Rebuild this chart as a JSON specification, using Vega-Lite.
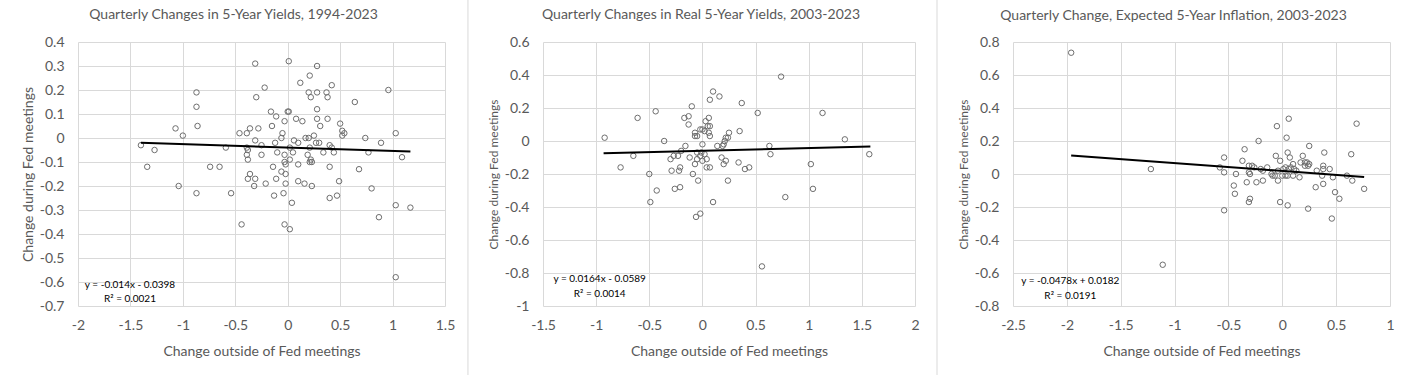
{
  "$schema": "https://vega.github.io/schema/vega-lite/v6.json",
  "background": "white",
  "autosize": {"type": "none"},
  "padding": {"left": 78, "top": 42, "right": 1325, "bottom": 333},
  "spacing": 98,
  "bounds": "flush",
  "datasets": {
    "p1": [
      {"x":-0.31,"y":0.31},{"x":0.01,"y":0.32},{"x":0.28,"y":0.30},{"x":0.21,"y":0.26},{"x":0.12,"y":0.23},{"x":0.42,"y":0.22},{"x":-0.87,"y":0.19},{"x":0.20,"y":0.19},{"x":0.28,"y":0.19},{"x":0.37,"y":0.19},
      {"x":-0.22,"y":0.21},{"x":-0.30,"y":0.17},{"x":0.22,"y":0.17},{"x":0.38,"y":0.17},{"x":0.96,"y":0.20},{"x":0.64,"y":0.15},{"x":-0.87,"y":0.13},{"x":0.28,"y":0.12},{"x":0.0,"y":0.11},{"x":0.01,"y":0.11},
      {"x":-0.16,"y":0.11},{"x":-0.11,"y":0.09},{"x":0.08,"y":0.08},{"x":0.14,"y":0.07},{"x":0.28,"y":0.08},{"x":0.38,"y":0.08},{"x":-0.03,"y":0.07},{"x":0.31,"y":0.05},{"x":0.50,"y":0.06},{"x":-0.86,"y":0.05},
      {"x":-1.07,"y":0.04},{"x":-1.0,"y":0.01},{"x":-0.46,"y":0.02},{"x":-0.39,"y":0.02},{"x":-0.36,"y":0.04},{"x":-0.28,"y":0.04},{"x":-0.15,"y":0.05},{"x":-0.05,"y":0.02},{"x":-0.06,"y":0.0},{"x":0.52,"y":0.03},
      {"x":0.52,"y":0.01},{"x":0.54,"y":0.02},{"x":1.03,"y":0.02},{"x":0.74,"y":0.0},{"x":0.89,"y":-0.02},{"x":0.17,"y":0.0},{"x":0.20,"y":0.0},{"x":0.25,"y":0.01},{"x":-0.31,"y":-0.01},{"x":-0.12,"y":-0.02},
      {"x":0.06,"y":-0.01},{"x":0.10,"y":-0.02},{"x":0.27,"y":-0.02},{"x":0.30,"y":-0.02},{"x":0.40,"y":-0.03},{"x":0.42,"y":-0.04},{"x":0.21,"y":-0.04},{"x":0.02,"y":-0.04},{"x":-0.39,"y":-0.04},{"x":-0.38,"y":-0.05},
      {"x":-0.25,"y":-0.03},{"x":-0.10,"y":-0.06},{"x":-0.03,"y":-0.07},{"x":0.05,"y":-0.06},{"x":0.34,"y":-0.06},{"x":0.44,"y":-0.06},{"x":-0.25,"y":-0.07},{"x":-0.39,"y":-0.07},{"x":-0.38,"y":-0.09},{"x":-0.59,"y":-0.04},
      {"x":-1.27,"y":-0.05},{"x":-1.40,"y":-0.03},{"x":0.77,"y":-0.06},{"x":1.09,"y":-0.08},{"x":0.19,"y":-0.07},{"x":0.02,"y":-0.09},{"x":-0.03,"y":-0.10},{"x":-0.02,"y":-0.11},{"x":0.10,"y":-0.11},{"x":0.21,"y":-0.10},
      {"x":0.23,"y":-0.10},{"x":0.22,"y":-0.09},{"x":0.40,"y":-0.12},{"x":-0.14,"y":-0.12},{"x":-0.74,"y":-0.12},{"x":-0.65,"y":-0.12},{"x":-1.34,"y":-0.12},{"x":0.68,"y":-0.13},{"x":-0.06,"y":-0.14},{"x":-0.02,"y":-0.15},
      {"x":-0.36,"y":-0.15},{"x":-0.38,"y":-0.17},{"x":-0.31,"y":-0.17},{"x":-0.11,"y":-0.17},{"x":-0.32,"y":-0.20},{"x":-0.21,"y":-0.19},{"x":-0.02,"y":-0.19},{"x":0.10,"y":-0.18},{"x":0.16,"y":-0.19},{"x":0.23,"y":-0.20},
      {"x":0.49,"y":-0.18},{"x":-1.04,"y":-0.20},{"x":0.80,"y":-0.21},{"x":-0.87,"y":-0.23},{"x":-0.54,"y":-0.23},{"x":-0.13,"y":-0.24},{"x":-0.04,"y":-0.23},{"x":0.40,"y":-0.25},{"x":0.47,"y":-0.24},{"x":0.04,"y":-0.27},
      {"x":1.03,"y":-0.28},{"x":1.17,"y":-0.29},{"x":0.87,"y":-0.33},{"x":-0.44,"y":-0.36},{"x":-0.03,"y":-0.36},{"x":0.02,"y":-0.38},{"x":1.03,"y":-0.58}
    ],
    "p2": [
      {"x":-0.92,"y":0.02},{"x":-0.61,"y":0.14},{"x":-0.44,"y":0.18},{"x":-0.36,"y":0.0},{"x":-0.65,"y":-0.09},{"x":-0.77,"y":-0.16},{"x":-0.50,"y":-0.20},{"x":-0.43,"y":-0.30},{"x":-0.49,"y":-0.37},{"x":-0.30,"y":-0.11},
      {"x":-0.27,"y":-0.09},{"x":-0.23,"y":-0.09},{"x":-0.29,"y":-0.18},{"x":-0.26,"y":-0.29},{"x":-0.21,"y":-0.28},{"x":-0.21,"y":-0.16},{"x":-0.22,"y":-0.18},{"x":-0.20,"y":-0.06},{"x":-0.16,"y":-0.03},{"x":-0.17,"y":0.14},
      {"x":-0.13,"y":0.15},{"x":-0.13,"y":0.10},{"x":-0.10,"y":0.21},{"x":-0.12,"y":-0.10},{"x":-0.07,"y":0.05},{"x":-0.07,"y":0.03},{"x":-0.05,"y":0.03},{"x":-0.02,"y":0.07},{"x":0.0,"y":0.07},{"x":0.03,"y":0.12},
      {"x":0.06,"y":0.14},{"x":0.05,"y":0.09},{"x":0.07,"y":0.09},{"x":0.07,"y":0.03},{"x":0.06,"y":0.05},{"x":0.02,"y":0.06},{"x":0.10,"y":0.30},{"x":0.07,"y":0.25},{"x":0.16,"y":0.27},{"x":-0.07,"y":-0.14},
      {"x":-0.09,"y":-0.20},{"x":-0.04,"y":-0.24},{"x":-0.05,"y":-0.11},{"x":-0.05,"y":-0.07},{"x":-0.02,"y":-0.09},{"x":0.0,"y":-0.02},{"x":-0.01,"y":-0.07},{"x":0.02,"y":-0.08},{"x":0.04,"y":-0.11},{"x":0.0,"y":-0.12},
      {"x":0.04,"y":-0.16},{"x":0.07,"y":-0.16},{"x":0.10,"y":-0.37},{"x":-0.06,"y":-0.46},{"x":-0.02,"y":-0.44},{"x":0.14,"y":-0.03},{"x":0.19,"y":-0.03},{"x":0.20,"y":-0.02},{"x":0.22,"y":0.02},{"x":0.24,"y":0.02},
      {"x":0.25,"y":0.05},{"x":0.21,"y":0.0},{"x":0.18,"y":-0.10},{"x":0.22,"y":-0.12},{"x":0.20,"y":-0.14},{"x":0.24,"y":-0.24},{"x":0.34,"y":-0.13},{"x":0.35,"y":0.06},{"x":0.37,"y":0.23},{"x":0.40,"y":-0.17},
      {"x":0.44,"y":-0.16},{"x":0.52,"y":0.17},{"x":0.56,"y":-0.76},{"x":0.63,"y":-0.03},{"x":0.64,"y":-0.08},{"x":0.74,"y":0.39},{"x":0.78,"y":-0.34},{"x":1.02,"y":-0.14},{"x":1.04,"y":-0.29},{"x":1.13,"y":0.17},
      {"x":1.34,"y":0.01},{"x":1.57,"y":-0.08}
    ],
    "p3": [
      {"x":-1.96,"y":0.735},{"x":-1.22,"y":0.03},{"x":-1.11,"y":-0.55},{"x":-0.58,"y":0.04},{"x":-0.54,"y":0.10},{"x":-0.54,"y":0.01},{"x":-0.43,"y":0.0},{"x":-0.45,"y":-0.07},{"x":-0.44,"y":-0.12},{"x":-0.54,"y":-0.22},
      {"x":-0.35,"y":0.15},{"x":-0.37,"y":0.08},{"x":-0.33,"y":-0.05},{"x":-0.31,"y":0.05},{"x":-0.28,"y":0.05},{"x":-0.31,"y":0.01},{"x":-0.30,"y":0.0},{"x":-0.26,"y":0.04},{"x":-0.31,"y":-0.17},{"x":-0.30,"y":-0.15},
      {"x":-0.24,"y":-0.05},{"x":-0.22,"y":0.20},{"x":-0.20,"y":0.03},{"x":-0.18,"y":-0.04},{"x":-0.18,"y":0.02},{"x":-0.14,"y":0.04},{"x":-0.07,"y":-0.01},{"x":-0.05,"y":0.29},{"x":-0.06,"y":0.11},{"x":-0.04,"y":0.02},
      {"x":-0.04,"y":-0.04},{"x":-0.02,"y":0.08},{"x":-0.02,"y":-0.17},{"x":0.06,"y":0.335},{"x":0.04,"y":0.22},{"x":0.05,"y":0.13},{"x":0.07,"y":0.10},{"x":0.05,"y":-0.19},{"x":0.01,"y":0.03},{"x":0.03,"y":0.04},
      {"x":0.06,"y":0.03},{"x":0.08,"y":0.04},{"x":0.0,"y":-0.01},{"x":0.03,"y":-0.01},{"x":0.05,"y":-0.01},{"x":0.10,"y":0.06},{"x":0.11,"y":0.03},{"x":0.10,"y":-0.01},{"x":0.16,"y":-0.02},{"x":0.17,"y":0.07},
      {"x":0.19,"y":0.11},{"x":0.21,"y":0.07},{"x":0.23,"y":0.07},{"x":0.21,"y":0.05},{"x":0.24,"y":0.05},{"x":0.25,"y":0.17},{"x":0.25,"y":0.06},{"x":0.24,"y":-0.21},{"x":0.31,"y":-0.08},{"x":0.32,"y":0.02},
      {"x":0.37,"y":-0.01},{"x":0.38,"y":0.03},{"x":0.38,"y":0.05},{"x":0.39,"y":0.13},{"x":0.38,"y":-0.06},{"x":0.44,"y":0.03},{"x":0.47,"y":-0.02},{"x":0.46,"y":-0.27},{"x":0.49,"y":-0.11},{"x":0.53,"y":-0.15},
      {"x":0.60,"y":-0.01},{"x":0.64,"y":0.12},{"x":0.65,"y":-0.04},{"x":0.69,"y":0.305},{"x":0.76,"y":-0.09},{"x":-0.10,"y":0.0},{"x":0.13,"y":0.02},{"x":-0.09,"y":-0.01}
    ],
    "t1": [{"x":-1.40,"y":-0.0202},{"x":1.17,"y":-0.0562}],
    "t2": [{"x":-0.93,"y":-0.0741},{"x":1.58,"y":-0.0330}],
    "t3": [{"x":-1.96,"y":0.1119},{"x":0.76,"y":-0.0181}],
    "e1": [{"label":"y = -0.014x - 0.0398","x":-1.504,"y":-0.6125},{"label":"R² = 0.0021","x":-1.504,"y":-0.671}],
    "e2": [{"label":"y = 0.0164x - 0.0589","x":-0.967,"y":-0.836},{"label":"R² = 0.0014","x":-0.967,"y":-0.927}],
    "e3": [{"label":"y = -0.0478x + 0.0182","x":-1.968,"y":-0.648},{"label":"R² = 0.0191","x":-1.968,"y":-0.738}],
    "s1": [{"x":1.719,"y":0.575,"y2":-0.9875}],
    "s2": [{"x":2.207,"y":0.8545,"y2":-1.418}]
  },
  "hconcat": [
    {
      "width": 367, "height": 264,
      "title": {"text": "Quarterly Changes in 5-Year Yields, 1994-2023", "offset": -22},
      "encoding": {
        "x": {"field": "x", "type": "quantitative", "scale": {"domain": [-2, 1.5], "nice": false, "zero": false}, "axis": {"values": [-2, -1.5, -1, -0.5, 0, 0.5, 1, 1.5], "title": "Change outside of Fed meetings"}},
        "y": {"field": "y", "type": "quantitative", "scale": {"domain": [-0.7, 0.4], "nice": false, "zero": false}, "axis": {"values": [-0.7, -0.6, -0.5, -0.4, -0.3, -0.2, -0.1, 0, 0.1, 0.2, 0.3, 0.4], "title": "Change during Fed meetings", "titleFontSize": 14, "titlePadding": 4}}
      },
      "layer": [
        {"mark": {"type": "rule", "color": "#000000", "strokeWidth": 1}, "encoding": {"x": {"datum": 0, "type": "quantitative"}, "y": null}},
        {"mark": {"type": "rule", "color": "#000000", "strokeWidth": 1}, "encoding": {"y": {"datum": 0, "type": "quantitative"}, "x": null}},
        {"data": {"name": "s1"}, "mark": {"type": "rule", "color": "#d9d9d9", "strokeWidth": 1}, "encoding": {"y2": {"field": "y2"}}},
        {"data": {"name": "p1"}, "mark": {"type": "point", "shape": "circle", "filled": false, "size": 30, "stroke": "#6e6e6e", "strokeWidth": 1, "opacity": 1}},
        {"data": {"name": "t1"}, "mark": {"type": "line", "color": "#000000", "strokeWidth": 2}},
        {"data": {"name": "e1"}, "mark": {"type": "text", "align": "center", "baseline": "middle", "fontSize": 10, "color": "#000000", "font": "Lato"}, "encoding": {"text": {"field": "label"}}}
      ]
    },
    {
      "width": 372, "height": 264,
      "title": {"text": "Quarterly Changes in Real 5-Year Yields, 2003-2023", "offset": -22},
      "encoding": {
        "x": {"field": "x", "type": "quantitative", "scale": {"domain": [-1.5, 2], "nice": false, "zero": false}, "axis": {"values": [-1.5, -1, -0.5, 0, 0.5, 1, 1.5, 2], "title": "Change outside of Fed meetings"}},
        "y": {"field": "y", "type": "quantitative", "scale": {"domain": [-1, 0.6], "nice": false, "zero": false}, "axis": {"values": [-1, -0.8, -0.6, -0.4, -0.2, 0, 0.2, 0.4, 0.6], "title": "Change during Fed meetings", "titleFontSize": 12, "titlePadding": 4}}
      },
      "layer": [
        {"mark": {"type": "rule", "color": "#000000", "strokeWidth": 1}, "encoding": {"x": {"datum": 0, "type": "quantitative"}, "y": null}},
        {"mark": {"type": "rule", "color": "#000000", "strokeWidth": 1}, "encoding": {"y": {"datum": 0, "type": "quantitative"}, "x": null}},
        {"data": {"name": "s2"}, "mark": {"type": "rule", "color": "#d9d9d9", "strokeWidth": 1}, "encoding": {"y2": {"field": "y2"}}},
        {"data": {"name": "p2"}, "mark": {"type": "point", "shape": "circle", "filled": false, "size": 30, "stroke": "#6e6e6e", "strokeWidth": 1, "opacity": 1}},
        {"data": {"name": "t2"}, "mark": {"type": "line", "color": "#000000", "strokeWidth": 2}},
        {"data": {"name": "e2"}, "mark": {"type": "text", "align": "center", "baseline": "middle", "fontSize": 10, "color": "#000000", "font": "Lato"}, "encoding": {"text": {"field": "label"}}}
      ]
    },
    {
      "width": 377, "height": 264,
      "title": {"text": "Quarterly Change, Expected 5-Year Inflation, 2003-2023", "offset": 12},
      "encoding": {
        "x": {"field": "x", "type": "quantitative", "scale": {"domain": [-2.5, 1], "nice": false, "zero": false}, "axis": {"values": [-2.5, -2, -1.5, -1, -0.5, 0, 0.5, 1], "title": "Change outside of Fed meetings"}},
        "y": {"field": "y", "type": "quantitative", "scale": {"domain": [-0.8, 0.8], "nice": false, "zero": false}, "axis": {"values": [-0.8, -0.6, -0.4, -0.2, 0, 0.2, 0.4, 0.6, 0.8], "title": "Change during Fed meetings", "titleFontSize": 12, "titlePadding": 4}}
      },
      "layer": [
        {"mark": {"type": "rule", "color": "#000000", "strokeWidth": 1}, "encoding": {"x": {"datum": 0, "type": "quantitative"}, "y": null}},
        {"mark": {"type": "rule", "color": "#000000", "strokeWidth": 1}, "encoding": {"y": {"datum": 0, "type": "quantitative"}, "x": null}},
        {"data": {"name": "p3"}, "mark": {"type": "point", "shape": "circle", "filled": false, "size": 30, "stroke": "#6e6e6e", "strokeWidth": 1, "opacity": 1}},
        {"data": {"name": "t3"}, "mark": {"type": "line", "color": "#000000", "strokeWidth": 2}},
        {"data": {"name": "e3"}, "mark": {"type": "text", "align": "center", "baseline": "middle", "fontSize": 10, "color": "#000000", "font": "Lato"}, "encoding": {"text": {"field": "label"}}}
      ]
    }
  ],
  "config": {
    "locale": {"number": {"decimal": ".", "thousands": ",", "grouping": [3], "currency": ["$", ""], "minus": "-"}},
    "font": "Lato",
    "view": {"stroke": null},
    "axis": {"grid": true, "gridColor": "#d9d9d9", "gridWidth": 1, "domain": false, "ticks": false, "labelColor": "#595959", "labelFont": "Lato", "labelFontSize": 14, "titleColor": "#595959", "titleFont": "Lato", "titleFontSize": 14, "titleFontWeight": "normal", "format": "~g", "labelFlush": false, "labelOverlap": false},
    "axisX": {"labelPadding": 12, "titlePadding": 12},
    "axisY": {"labelPadding": 14, "titlePadding": 8},
    "title": {"font": "Lato", "fontSize": 14, "fontWeight": "normal", "color": "#595959", "dx": -28, "anchor": "middle"}
  }
}
